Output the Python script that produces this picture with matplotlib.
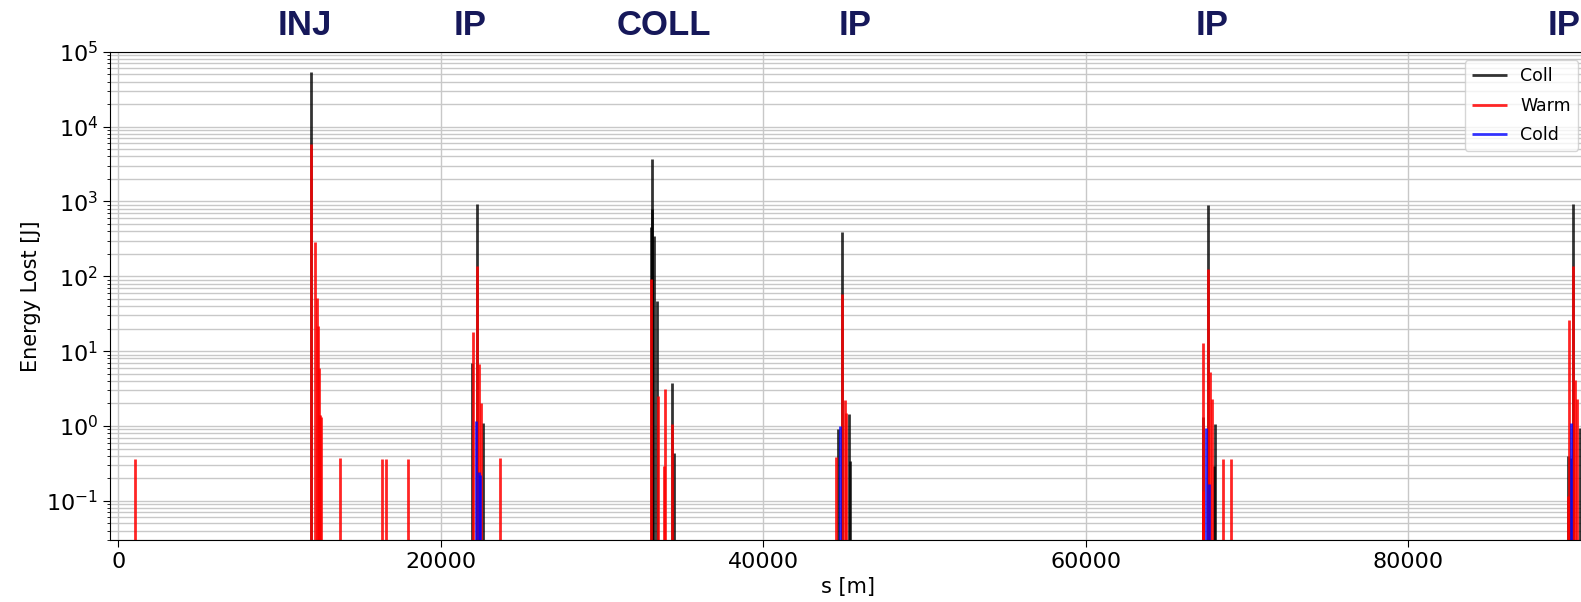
import numpy as np
import matplotlib
matplotlib.use("Agg")
import matplotlib.pyplot as plt
import matplotlib.transforms as mtrans

# loss positions [m] and energy lost [J]
coll_s = [11930, 21935, 22245, 22640, 33035, 33080, 33120, 33220, 33390, 34320, 34460,
          44615, 44900, 45335, 45380, 67290, 67560, 67950, 68000, 89950, 90070, 90230, 90650]
coll_e = [53000, 7.0, 920, 1.1, 453, 3680, 790, 347, 47, 3.8, 0.44,
          0.9, 385, 1.43, 0.34, 1.32, 890, 0.29, 1.08, 0.4, 0.37, 920, 0.95]

warm_s = [1040, 11930, 12200, 12320, 12380, 12420, 12460, 12520, 12580, 13750, 16370, 16600, 17970,
          21980, 22245, 22370, 22495, 23650, 33015, 33450, 33820, 33925, 34320,
          44530, 44900, 45065, 45130, 67250, 67310, 67560, 67720, 67830, 68490, 68990,
          89890, 90010, 90230, 90380, 90505]
warm_e = [0.36, 5800, 288, 52, 22, 6, 1.4, 1.4, 1.3, 0.37, 0.36, 0.36, 0.36,
          18, 138, 6.7, 2.05, 0.37, 91, 2.5, 0.29, 3.1, 1.05,
          0.38, 58, 2.2, 1.5, 0.135, 13, 125, 5.3, 2.3, 0.36, 0.36,
          0.116, 26, 138, 4.1, 2.3]

cold_s = [22160, 22390, 22450, 44780, 67470, 67660, 90130]
cold_e = [1.17, 0.24, 0.22, 1.0, 0.95, 0.166, 1.1]

# section names above the plot
sec_names = ["INJ", "IP", "COLL", "IP", "IP", "IP"]
sec_s = [11550, 21810, 33810, 45690, 67860, 89680]

fig = plt.figure(figsize=(15.81, 6.02), dpi=100)
ax = fig.add_axes([0.0696, 0.103, 0.934, 0.811])

floor = 1e-3
ax.vlines(coll_s, floor, coll_e, colors="black", lw=2.0, alpha=0.8, label="Coll")
ax.vlines(warm_s, floor, warm_e, colors="red", lw=2.0, alpha=0.85, label="Warm")
ax.vlines(cold_s, floor, cold_e, colors="blue", lw=2.0, alpha=0.8, label="Cold")

ax.set_yscale("log")
ax.set_ylim(0.03, 1e5)
ax.set_xlim(-515, 91080)
ax.set_xticks([0, 20000, 40000, 60000, 80000])

ax.grid(True, which="major", axis="both", color="#c8c8c8", lw=1)
ax.grid(True, which="minor", axis="y", color="#c8c8c8", lw=1)
ax.set_axisbelow(True)

ax.tick_params(axis="both", which="major", labelsize=16, length=5)
ax.set_xlabel("s [m]", fontsize=15)
ax.set_ylabel("Energy Lost [J]", fontsize=15)

ax.legend(loc="upper right", fontsize=12.5, labelspacing=0.65)

tr = mtrans.blended_transform_factory(ax.transData, fig.transFigure)
for name, s in zip(sec_names, sec_s):
    ax.text(s, 1 - 35 / 602, name, transform=tr, ha="center", va="baseline",
            fontsize=25, fontweight="bold", family="Liberation Sans",
            color="#16185a", clip_on=False)

fig.savefig("out.png", dpi=100)
